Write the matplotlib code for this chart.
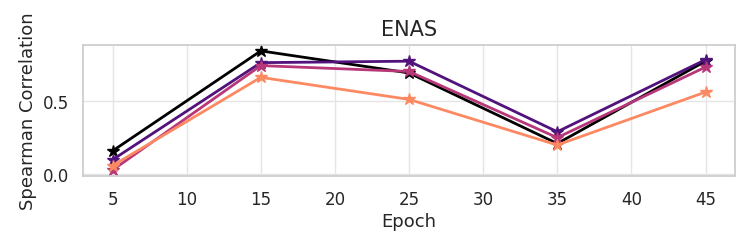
import matplotlib
matplotlib.use("Agg")
import matplotlib.pyplot as plt
import seaborn as sns

sns.set_theme(style="whitegrid")
plt.rcParams['font.family'] = ['DejaVu Sans']

epochs = [5, 15, 25, 35, 45]
series_black = [0.16, 0.84, 0.69, 0.21, 0.77]
series_purple = [0.10, 0.76, 0.77, 0.29, 0.78]
series_magenta = [0.03, 0.74, 0.70, 0.25, 0.73]
series_orange = [0.06, 0.66, 0.51, 0.20, 0.56]

colors = ["#000000", "#51127c", "#b73779", "#fc8961"]
all_series = [series_black, series_purple, series_magenta, series_orange]

fig = plt.figure(figsize=(7.54, 2.51), dpi=100)
ax = fig.add_axes([0.110, 0.295, 0.865, 0.522])
for s, c in zip(all_series, colors):
    ax.plot(epochs, s, color=c, marker="*", markersize=9, linewidth=2)

ax.set_xticks([5, 10, 15, 20, 25, 30, 35, 40, 45])
ax.set_yticks([0.0, 0.5])
ax.set_title("ENAS", fontsize=15, color="#262626", pad=7)
ax.set_xlabel("Epoch", fontsize=13, color="#262626", labelpad=3)
ax.set_ylabel("Spearman Correlation", fontsize=13, color="#262626")
ax.tick_params(labelsize=12, colors="#262626", pad=4)
for sp in ax.spines.values():
    sp.set_color("#cccccc")
ax.grid(True, color="#e5e5e5")

fig.savefig("out.png", dpi=100)
